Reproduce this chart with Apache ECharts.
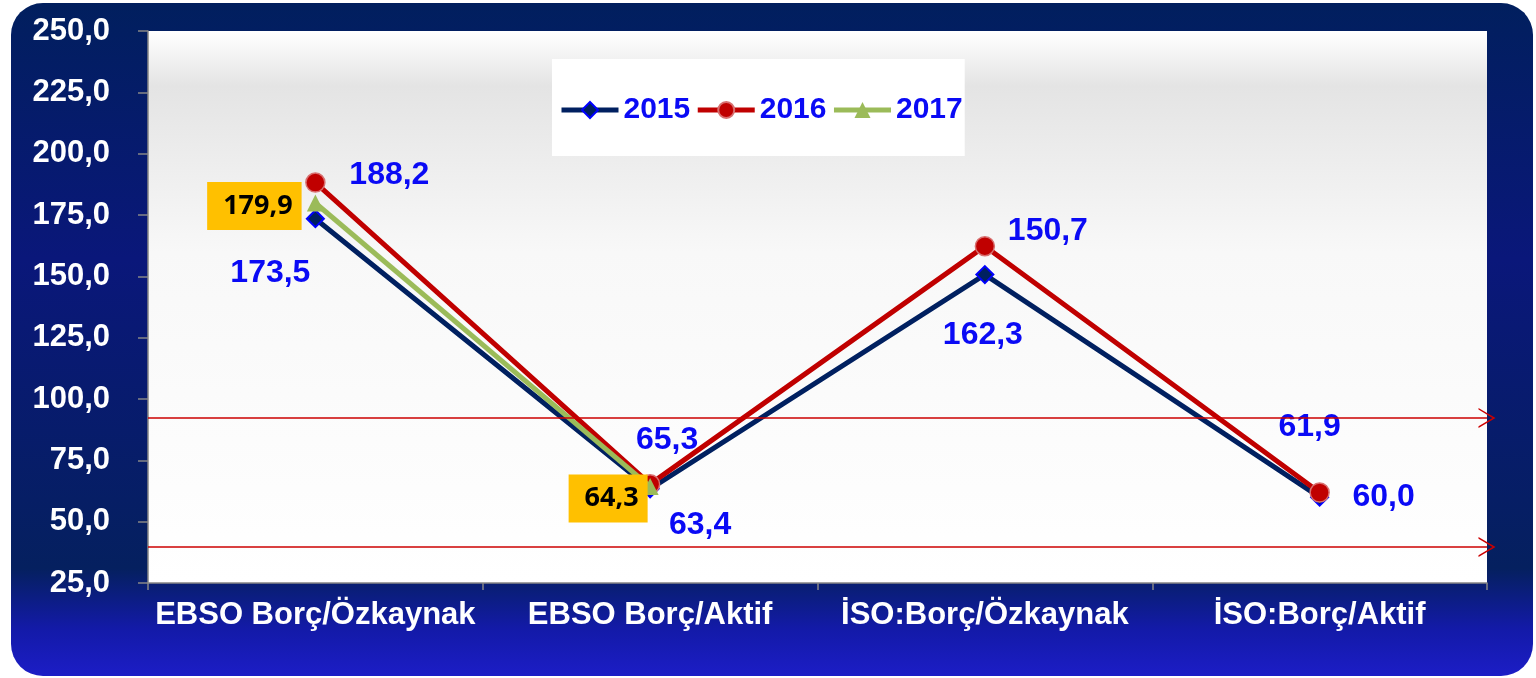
<!DOCTYPE html>
<html>
<head>
<meta charset="utf-8">
<script src="https://cdn.jsdelivr.net/npm/echarts@6/dist/echarts.min.js"></script>
<style>
  html, body { margin: 0; padding: 0; background: #ffffff; }
  #frame {
    position: absolute; left: 11px; top: 3px; width: 1522px; height: 673px;
    border-radius: 32px;
    background: linear-gradient(to bottom, #011f5e 0%, #0a177a 38%, #05205f 84%, #131aa8 93%, #1c1dc6 100%);
  }
  #chart { position: absolute; left: 0; top: 0; width: 1536px; height: 678px; }
</style>
</head>
<body>
<div id="frame"></div>
<div id="chart"></div>
<script>
// chart data
const categories = ['EBSO Borç/Özkaynak', 'EBSO Borç/Aktif', 'İSO:Borç/Özkaynak', 'İSO:Borç/Aktif'];
const values2015 = [173.5, 63.4, 150.7, 60.0];
const values2016 = [188.2, 65.3, 162.3, 61.9];
const values2017 = [179.9, 64.3, null, null];
const refLines = [92.3, 39.7];
const yMin = 25, yMax = 250, yStep = 25;

// where each value label sits relative to its point (as in the original slide)
const offs2015 = [[-45, 54], [50, 36], [63, -43], [64, 0]];
const offs2016 = [[74, -7], [17, -44], [-2, 89], [-10, -65]];
const offs2017 = [[-61, 3], [-42, 12]];

const fmt = v => Number(v).toFixed(1).replace('.', ',');
const FONT = '"Liberation Sans", Arial, sans-serif';

const blueLabel = {
    show: true, position: 'inside', color: '#0a0af5',
    fontFamily: FONT, fontWeight: 'bold', fontSize: 32,
    formatter: p => fmt(p.value)
};
const boxLabel = {
    show: true, position: 'inside', color: '#000000',
    fontFamily: '"Open Sans", sans-serif', fontWeight: 'bold', fontSize: 27,
    backgroundColor: '#ffc000', padding: [8, 9, 8, 16], lineHeight: 32,
    formatter: p => fmt(p.value)
};

const withOffsets = (vals, offs, lbl) => vals.map((v, i) => ({
    value: v,
    label: Object.assign({}, lbl, { offset: offs[i] || [0, 0] })
}));

const chevron = 'path://M0,17 L10,0 L20,17 L18.3,17 L10,3 L1.7,17 Z';

const myChart = echarts.init(document.getElementById('chart'));
const option = {
    backgroundColor: 'transparent',
    animation: false,
    grid: {
        left: 148, right: 49, top: 31, bottom: 95,
        show: true, borderWidth: 0,
        backgroundColor: {
            type: 'linear', x: 0, y: 0, x2: 0, y2: 1,
            colorStops: [
                { offset: 0, color: '#ffffff' },
                { offset: 0.1, color: '#e4e4e4' },
                { offset: 0.4, color: '#f8f8f8' },
                { offset: 1, color: '#ffffff' }
            ]
        }
    },
    legend: {
        left: 552, top: 59,
        backgroundColor: '#ffffff',
        padding: [36, 2, 31, 7],
        itemWidth: 57, itemHeight: 20, itemGap: 5,
        lineStyle: { width: 5 },
        textStyle: { color: '#0a0af5', fontFamily: FONT, fontWeight: 'bold', fontSize: 30 },
        data: ['2015', '2016', '2017']
    },
    xAxis: {
        type: 'category',
        data: categories,
        boundaryGap: true,
        axisLine: { lineStyle: { color: '#868686', width: 1.5 } },
        axisTick: { show: true, length: 7, lineStyle: { color: '#868686', width: 1.5 } },
        axisLabel: { interval: 0, color: '#ffffff', fontFamily: FONT, fontWeight: 'bold', fontSize: 31, margin: 17 }
    },
    yAxis: {
        type: 'value',
        min: yMin, max: yMax, interval: yStep,
        splitLine: { show: false },
        axisLine: { show: true, lineStyle: { color: '#868686', width: 1.5 } },
        axisTick: { show: true, length: 10, lineStyle: { color: '#868686', width: 1.5 } },
        axisLabel: { color: '#ffffff', fontFamily: FONT, fontWeight: 'bold', fontSize: 31, margin: 38,
            formatter: v => fmt(v) }
    },
    series: [
        {
            name: '2015', type: 'line',
            data: withOffsets(values2015, offs2015, blueLabel),
            symbol: 'diamond', symbolSize: 17,
            lineStyle: { color: '#002060', width: 5 },
            itemStyle: { color: '#002060', borderColor: '#0000ff', borderWidth: 2 },
            markLine: {
                silent: true,
                symbol: ['none', chevron],
                symbolSize: [20, 17],
                label: { show: false },
                lineStyle: { color: '#cc0000', width: 1.5, type: 'solid' },
                data: refLines.map(v => ({ yAxis: v }))
            },
            z: 2
        },
        {
            name: '2016', type: 'line',
            data: withOffsets(values2016, offs2016, blueLabel),
            symbol: 'circle', symbolSize: 19,
            lineStyle: { color: '#c00000', width: 5 },
            itemStyle: { color: '#c00000', borderColor: '#d87070', borderWidth: 1.5 },
            z: 3
        },
        {
            name: '2017', type: 'line',
            data: withOffsets(values2017, offs2017, boxLabel),
            symbol: 'triangle', symbolSize: 17,
            connectNulls: false,
            lineStyle: { color: '#9bbb59', width: 5 },
            itemStyle: { color: '#9bbb59' },
            z: 4
        }
    ]
};
myChart.setOption(option);
</script>
</body>
</html>
